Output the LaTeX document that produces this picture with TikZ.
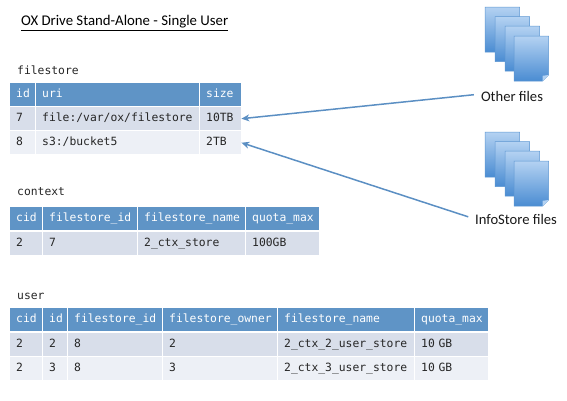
\documentclass[tikz,border=0pt]{standalone}
\usepackage{fontspec}
\setmainfont{Carlito}
\setmonofont{DejaVu Sans Mono}
\usetikzlibrary{arrows.meta}
\definecolor{headblue}{HTML}{5F94C6}
\definecolor{rowdark}{HTML}{D8DEEA}
\definecolor{rowlight}{HTML}{EDF0F6}
\definecolor{arrowblue}{HTML}{5B8FC3}
\definecolor{doctop}{HTML}{B4D2F2}
\definecolor{docbottom}{HTML}{4A8CD2}
\definecolor{docedge}{HTML}{5E97D2}
\tikzset{
	tblcell/.style={anchor=north west,inner sep=0pt,inner xsep=6pt,align=left,font=\ttfamily\fontsize{11.35}{11.35}\selectfont,text height=8pt,text depth=2pt},
	hcell/.style={tblcell,fill=headblue,text=white,minimum height=23pt},
	darkcell/.style={tblcell,fill=rowdark,text=black!85,minimum height=23pt},
	lightcell/.style={tblcell,fill=rowlight,text=black!85,minimum height=23pt},
	tbllabel/.style={anchor=west,inner sep=0pt,font=\ttfamily\fontsize{11.35}{11.35}\selectfont,text=black!85},
	filelabel/.style={inner sep=0pt,font=\fontsize{14.6}{15}\selectfont,text=black!90},
	link/.style={draw=arrowblue,line width=1.5pt,shorten <=7pt,-{Stealth[length=8pt,width=7pt]}},
	docpage/.style={draw=docedge,line width=.5pt,top color=doctop,bottom color=docbottom},
	pics/docstack/.style={code={
		\foreach \dx/\dy in {0/0,10/9.5,20/19,29/29}{
			\path[docpage] (\dx,\dy) -- ++(34.5,0) -- ++(0,39) -- ++(-6,6) -- ++(-28.5,0) -- cycle;
			\path[fill=doctop] (\dx+34.5,\dy+39) -- ++(-6,0.8) -- ++(0,5.2) -- cycle;
		}
	}},
}
% one row of cells: style, top, name, list of x/width/name/text
\newcommand{\tblrow}[3]{
	\foreach \cx/\cw/\cn/\ct in {#3}{
		\node[#1,minimum width=\cw pt,text width=\cw pt-12pt] (\cn) at (\cx,#2) {\ct};
	}
}
\begin{document}
\begin{tikzpicture}[x=1pt,y=-1pt]
	\useasboundingbox (0,0) rectangle (567,400);
	\node[anchor=west,inner sep=0pt,font=\fontsize{14.8}{16}\selectfont] (title) at (21,23) {\underline{OX Drive Stand-Alone - Single User}};

	% filestore
	\node[tbllabel] (fslabel) at (17,70) {filestore};
	\tblrow{hcell}{83}{10/25/fsh1/id,36/163/fsh2/uri,200/41/fsh3/size}
	\tblrow{darkcell}{107}{10/25/fsa1/7,36/163/fsa2/{file:/var/ox/filestore},200/41/fsa3/10TB}
	\tblrow{lightcell}{131}{10/25/fsb1/8,36/163/fsb2/{s3:/bucket5},200/41/fsb3/2TB}

	% context
	\node[tbllabel] (ctxlabel) at (17,192) {context};
	\tblrow{hcell}{207}{10/32/cxh1/cid,43/94/cxh2/filestore\_id,138/107/cxh3/filestore\_name,246/73/cxh4/quota\_max}
	\tblrow{darkcell}{232}{10/32/cxa1/2,43/94/cxa2/7,138/107/cxa3/2\_ctx\_store,246/73/cxa4/100GB}

	% user
	\node[tbllabel] (usrlabel) at (17,296) {user};
	\tblrow{hcell}{308}{10/32/ush1/cid,43/24/ush2/id,68/94/ush3/filestore\_id,163/114/ush4/filestore\_owner,278/136/ush5/filestore\_name,415/73/ush6/quota\_max}
	\tblrow{darkcell}{333}{10/32/usa1/2,43/24/usa2/2,68/94/usa3/8,163/114/usa4/2,278/136/usa5/2\_ctx\_2\_user\_store,415/73/usa6/10 GB}
	\tblrow{lightcell}{357}{10/32/usb1/2,43/24/usb2/3,68/94/usb3/8,163/114/usb4/3,278/136/usb5/2\_ctx\_3\_user\_store,415/73/usb6/10 GB}

	% file stacks
	\pic at (485,7) {docstack};
	\pic at (485,132) {docstack};
	\node[filelabel] (other) at (512,96) {Other files};
	\node[filelabel] (infostore) at (516,219) {InfoStore files};

	\draw[link] ([yshift=2pt]other.west) -- (fsa3.east);
	\draw[link] (infostore.west) -- (fsb3.east);
\end{tikzpicture}
\end{document}
